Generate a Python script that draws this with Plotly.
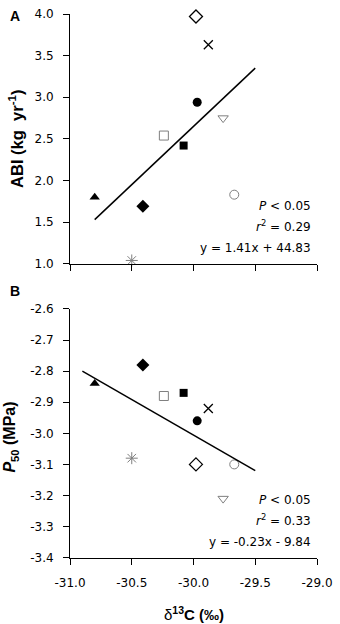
import plotly.graph_objects as go

# ---- data ----
d13C = [-30.80, -30.41, -30.50, -30.24, -30.08, -29.97, -29.98, -29.88, -29.76, -29.67]
abi = [1.80, 1.69, 1.04, 2.54, 2.42, 2.94, 3.97, 3.63, 2.75, 1.83]
p50 = [-2.84, -2.78, -3.08, -2.88, -2.87, -2.96, -3.10, -2.92, -3.21, -3.10]

fitA_x = [-30.80, -29.50]
fitA_y = [1.53, 3.35]
fitB_x = [-30.90, -29.50]
fitB_y = [-2.80, -3.12]

x_ticks = [-31.0, -30.5, -30.0, -29.5, -29.0]
abi_ticks = [1.0, 1.5, 2.0, 2.5, 3.0, 3.5, 4.0]
p50_ticks = [-3.4, -3.3, -3.2, -3.1, -3.0, -2.9, -2.8, -2.7, -2.6]

statsA = ["<i>P</i> < 0.05", "<i>r</i><sup>2</sup> = 0.29", "y = 1.41x + 44.83"]
statsB = ["<i>P</i> < 0.05", "<i>r</i><sup>2</sup> = 0.33", "y = -0.23x - 9.84"]

# ---- styles ----
GRAY = "#7f7f7f"
symbols = ["triangle-up", "diamond", "asterisk-open", "square-open", "square",
           "circle", "diamond-open", "x-thin-open", "triangle-down-open", "circle-open"]
colors = ["#000000", "#000000", GRAY, GRAY, "#000000", "#000000", "#000000", "#000000", GRAY, GRAY]
sizes = [9, 10, 10, 9, 8, 9, 10, 9, 9, 9]
lw = [0, 0, 1, 1, 0, 0, 1.3, 1.3, 1, 1]

TICKFONT = dict(family="DejaVu Sans", size=12, color="black")


def fmt(v):
    return f"{v:.1f}"  # plain hyphen-minus as in the reference


fig = go.Figure()

for xa, ya, yv in [("x", "y", abi), ("x2", "y2", p50)]:
    fig.add_trace(go.Scatter(
        x=d13C, y=yv, mode="markers", xaxis=xa, yaxis=ya, cliponaxis=False,
        marker=dict(symbol=symbols, color=colors, size=sizes, opacity=1,
                    line=dict(color=colors, width=lw)),
        showlegend=False, hoverinfo="skip"))

fig.add_trace(go.Scatter(x=fitA_x, y=fitA_y, mode="lines", xaxis="x", yaxis="y",
                         line=dict(color="black", width=1.5), showlegend=False))
fig.add_trace(go.Scatter(x=fitB_x, y=fitB_y, mode="lines", xaxis="x2", yaxis="y2",
                         line=dict(color="black", width=1.5), showlegend=False))

W, H = 340, 624
L, R, T, B = 70, 18, 7, 66
ph = H - T - B  # 551
topA, botA = 7, 260
topB, botB = 305.7, 557.7


def dom(top, bot):
    return [1 - (bot - T) / ph, 1 - (top - T) / ph]


xcommon = dict(range=[-31, -29], tickvals=x_ticks, ticktext=[fmt(v) for v in x_ticks],
               showline=True, linecolor="black",
               linewidth=1, ticks="outside", ticklen=6, tickcolor="black", tickwidth=1,
               showgrid=False, zeroline=False, tickfont=TICKFONT, fixedrange=True)
ycommon = dict(showline=True, linecolor="black", linewidth=1, ticks="outside",
               ticklen=6, tickcolor="black", tickwidth=1, showgrid=False,
               zeroline=False, tickfont=TICKFONT, ticklabelstandoff=7, fixedrange=True)

fig.update_layout(
    width=W, height=H,
    margin=dict(l=L, r=R, t=T, b=B, pad=0),
    paper_bgcolor="white", plot_bgcolor="white",
    font=dict(family="Liberation Sans", color="black"),
    xaxis=dict(**xcommon, domain=[0, 1], anchor="y", showticklabels=False),
    yaxis=dict(**ycommon, domain=dom(topA, botA), anchor="x", range=[1.0, 4.0],
               tickvals=abi_ticks, ticktext=[fmt(v) for v in abi_ticks]),
    xaxis2=dict(**xcommon, domain=[0, 1], anchor="y2", ticklabelstandoff=8),
    yaxis2=dict(**ycommon, domain=dom(topB, botB), anchor="x2", range=[-3.4, -2.6],
                tickvals=p50_ticks, ticktext=[fmt(v) for v in p50_ticks]),
)


def py2paper(py):
    return 1 - (py - T) / ph


ann = []
for i, t in enumerate(statsA):
    ann.append(dict(text=t, xref="paper", yref="paper", x=(318 - L) / (W - L - R),
                    y=py2paper([201, 222, 244][i]), xanchor="right", yanchor="middle",
                    showarrow=False, font=dict(family="DejaVu Sans", size=12)))
for i, t in enumerate(statsB):
    ann.append(dict(text=t, xref="paper", yref="paper", x=(318 - L) / (W - L - R),
                    y=py2paper([499, 520, 542][i]), xanchor="right", yanchor="middle",
                    showarrow=False, font=dict(family="DejaVu Sans", size=12)))
ann.append(dict(text="<b>A</b>", xref="paper", yref="paper", x=0, xshift=15 - L,
                y=py2paper(9), xanchor="center", yanchor="middle", showarrow=False,
                font=dict(family="Liberation Sans", size=14)))
ann.append(dict(text="<b>B</b>", xref="paper", yref="paper", x=0, xshift=15 - L,
                y=py2paper(288), xanchor="center", yanchor="middle", showarrow=False,
                font=dict(family="Liberation Sans", size=14)))
ann.append(dict(text="<b>ABI (kg  yr<sup>-1</sup>)</b>", xref="paper", yref="paper",
                x=0, xshift=16 - L, y=py2paper(133.5), xanchor="center", yanchor="middle",
                textangle=-90, showarrow=False, font=dict(family="Liberation Sans", size=16.5)))
ann.append(dict(text="<b><i>P</i><sub>50</sub> (MPa)</b>", xref="paper", yref="paper",
                x=0, xshift=11 - L, y=py2paper(436), xanchor="center", yanchor="middle",
                textangle=-90, showarrow=False, font=dict(family="Liberation Sans", size=16)))
ann.append(dict(text="δ<b><sup>13</sup>C (‰)</b>", xref="paper", yref="paper",
                x=(197 - L) / (W - L - R), y=py2paper(614), xanchor="center",
                yanchor="middle", showarrow=False,
                font=dict(family="Liberation Sans", size=15)))

fig.update_layout(annotations=ann)
fig.write_html("out.html", config={"displayModeBar": False},
               post_script="document.body.style.margin='0';document.body.style.overflow='hidden';")
